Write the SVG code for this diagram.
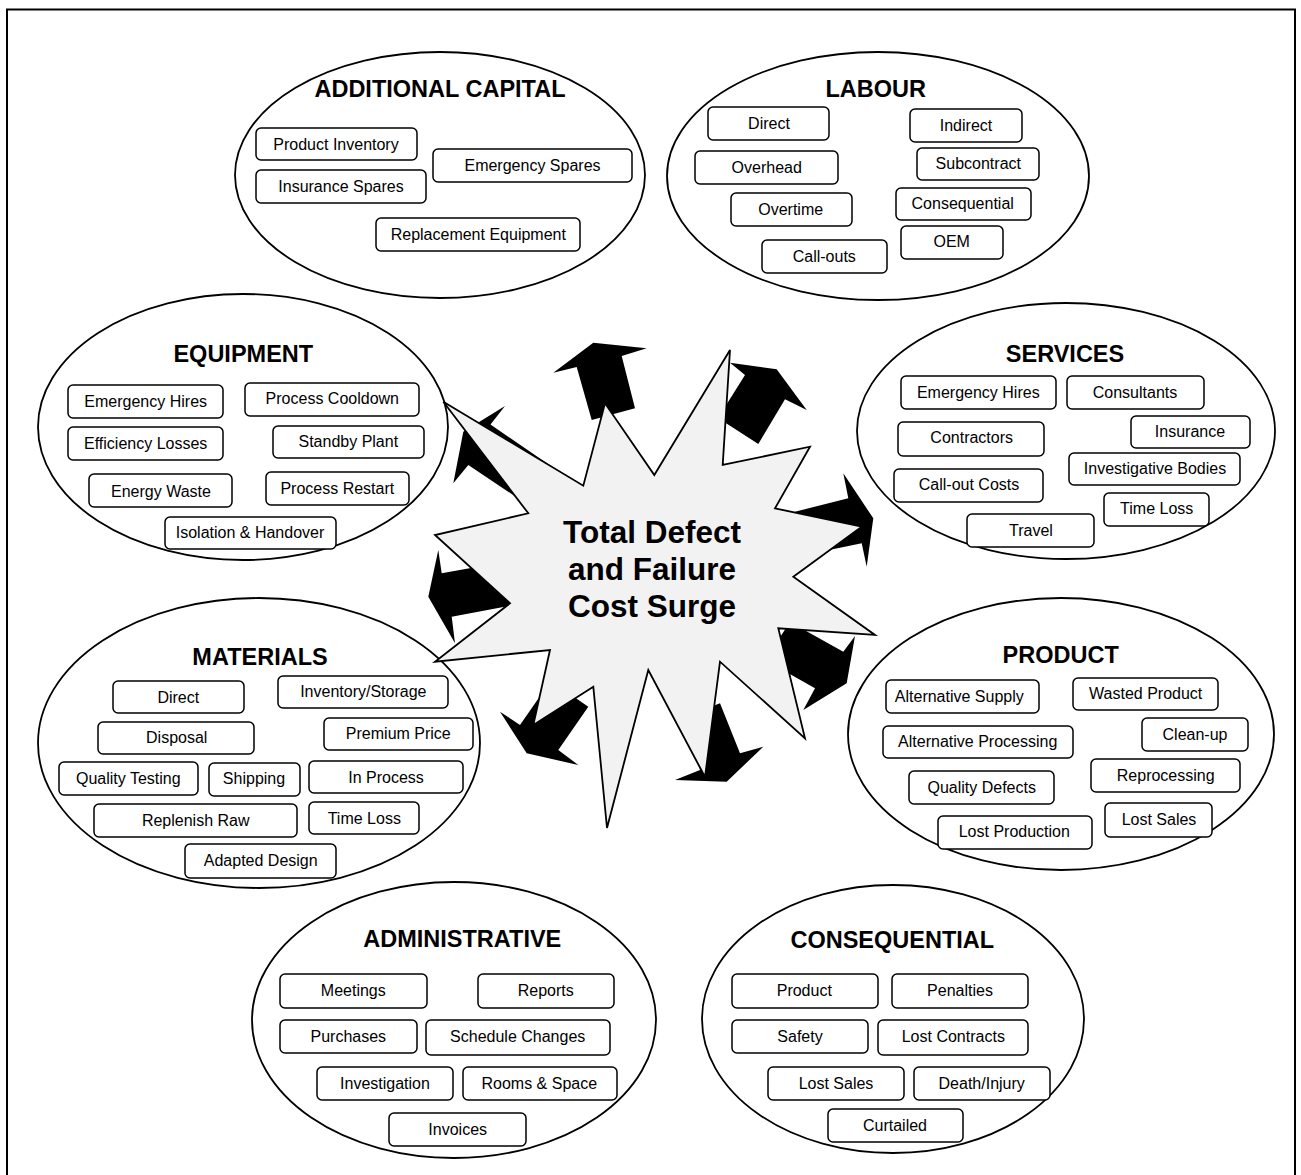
<svg xmlns="http://www.w3.org/2000/svg" width="1301" height="1175" viewBox="0 0 1301 1175">
<style>
.frame{fill:none;stroke:#000;stroke-width:2}
.oval{fill:#fff;stroke:#000;stroke-width:1.8}
.box{fill:#fff;stroke:#000;stroke-width:1.5}
.t{font-family:"Liberation Sans",Arial,sans-serif;font-size:16px;text-anchor:middle;fill:#000}
.h{font-family:"Liberation Sans",Arial,sans-serif;font-size:23.5px;font-weight:bold;text-anchor:middle;fill:#000}
.arrow{fill:#000;stroke:none}
.star{fill:#f2f2f2;stroke:#000;stroke-width:1.8;stroke-linejoin:miter}
.c{font-family:"Liberation Sans",Arial,sans-serif;font-size:31.5px;font-weight:bold;text-anchor:middle;fill:#000}
</style>
<rect class="frame" x="7" y="9.5" width="1288" height="1172"/>

<g id="additional-capital">
<ellipse class="oval" cx="440" cy="175" rx="205" ry="123"/>
<text class="h" x="440" y="96.7">ADDITIONAL CAPITAL</text>
<rect class="box" x="256" y="128" width="161" height="32" rx="5"/><text class="t" x="336" y="150">Product Inventory</text>
<rect class="box" x="256" y="170" width="170" height="33" rx="5"/><text class="t" x="341" y="191.7">Insurance Spares</text>
<rect class="box" x="433" y="149" width="199" height="33" rx="5"/><text class="t" x="532.5" y="170.7">Emergency Spares</text>
<rect class="box" x="376" y="218" width="204" height="33" rx="5"/><text class="t" x="478.3" y="240">Replacement Equipment</text>
</g>

<g id="labour">
<ellipse class="oval" cx="878" cy="176" rx="211" ry="124"/>
<text class="h" x="875.7" y="96.7">LABOUR</text>
<rect class="box" x="708" y="107" width="121" height="33" rx="5"/><text class="t" x="769" y="129">Direct</text>
<rect class="box" x="695" y="151" width="143" height="33" rx="5"/><text class="t" x="766.7" y="173.3">Overhead</text>
<rect class="box" x="731" y="193" width="121" height="33" rx="5"/><text class="t" x="790.7" y="215">Overtime</text>
<rect class="box" x="762" y="240" width="125" height="33" rx="5"/><text class="t" x="824.3" y="262.3">Call-outs</text>
<rect class="box" x="910" y="109" width="112" height="33" rx="5"/><text class="t" x="966" y="131">Indirect</text>
<rect class="box" x="917" y="148" width="122" height="32" rx="5"/><text class="t" x="978.3" y="169">Subcontract</text>
<rect class="box" x="896" y="188" width="135" height="32" rx="5"/><text class="t" x="962.7" y="209.3">Consequential</text>
<rect class="box" x="901" y="226" width="102" height="33" rx="5"/><text class="t" x="951.7" y="247.3">OEM</text>
</g>

<g id="equipment">
<ellipse class="oval" cx="243" cy="427" rx="205" ry="133"/>
<text class="h" x="243.3" y="362.3">EQUIPMENT</text>
<rect class="box" x="68" y="385" width="155" height="33" rx="5"/><text class="t" x="145.7" y="407.3">Emergency Hires</text>
<rect class="box" x="68" y="427" width="155" height="33" rx="5"/><text class="t" x="145.7" y="449">Efficiency Losses</text>
<rect class="box" x="89" y="474" width="143" height="33" rx="5"/><text class="t" x="161" y="496.7">Energy Waste</text>
<rect class="box" x="245" y="383" width="174" height="33" rx="5"/><text class="t" x="332.3" y="404.3">Process Cooldown</text>
<rect class="box" x="273" y="426" width="151" height="32" rx="5"/><text class="t" x="348.3" y="447.3">Standby Plant</text>
<rect class="box" x="266" y="472" width="143" height="33" rx="5"/><text class="t" x="337.3" y="494">Process Restart</text>
<rect class="box" x="165" y="517" width="171" height="32" rx="5"/><text class="t" x="250" y="537.7">Isolation &amp; Handover</text>
</g>

<g id="services">
<ellipse class="oval" cx="1066" cy="431" rx="209" ry="128"/>
<text class="h" x="1065" y="361.7">SERVICES</text>
<rect class="box" x="901" y="376" width="155" height="33" rx="5"/><text class="t" x="978.3" y="397.7">Emergency Hires</text>
<rect class="box" x="1067" y="376" width="137" height="33" rx="5"/><text class="t" x="1135" y="397.7">Consultants</text>
<rect class="box" x="898" y="422" width="146" height="34" rx="5"/><text class="t" x="971.7" y="443.3">Contractors</text>
<rect class="box" x="1131" y="416" width="119" height="32" rx="5"/><text class="t" x="1190" y="436.7">Insurance</text>
<rect class="box" x="1069" y="453" width="171" height="32" rx="5"/><text class="t" x="1155" y="474">Investigative Bodies</text>
<rect class="box" x="894" y="469" width="149" height="33" rx="5"/><text class="t" x="969" y="490">Call-out Costs</text>
<rect class="box" x="1104" y="493" width="105" height="33" rx="5"/><text class="t" x="1156.7" y="514.3">Time Loss</text>
<rect class="box" x="967" y="514" width="127" height="33" rx="5"/><text class="t" x="1031" y="535.7">Travel</text>
</g>

<g id="materials">
<ellipse class="oval" cx="259" cy="743" rx="221" ry="145"/>
<text class="h" x="260" y="665">MATERIALS</text>
<rect class="box" x="113" y="681" width="131" height="32" rx="5"/><text class="t" x="178.3" y="702.7">Direct</text>
<rect class="box" x="278" y="676" width="170" height="32" rx="5"/><text class="t" x="363.3" y="697.3">Inventory/Storage</text>
<rect class="box" x="98" y="722" width="156" height="32" rx="5"/><text class="t" x="176.7" y="743.3">Disposal</text>
<rect class="box" x="324" y="718" width="149" height="32" rx="5"/><text class="t" x="398.3" y="739">Premium Price</text>
<rect class="box" x="59" y="762" width="139" height="33" rx="5"/><text class="t" x="128.3" y="784">Quality Testing</text>
<rect class="box" x="209" y="763" width="91" height="33" rx="5"/><text class="t" x="254" y="784.3">Shipping</text>
<rect class="box" x="309" y="761" width="154" height="32" rx="5"/><text class="t" x="386" y="783.3">In Process</text>
<rect class="box" x="94" y="804" width="203" height="33" rx="5"/><text class="t" x="195.7" y="825.7">Replenish Raw</text>
<rect class="box" x="309" y="802" width="110" height="32" rx="5"/><text class="t" x="364.3" y="824">Time Loss</text>
<rect class="box" x="185" y="844" width="151" height="34" rx="5"/><text class="t" x="260.7" y="866">Adapted Design</text>
</g>

<g id="product">
<ellipse class="oval" cx="1061" cy="734" rx="213" ry="136"/>
<text class="h" x="1060.7" y="663.3">PRODUCT</text>
<rect class="box" x="886" y="680" width="153" height="33" rx="5"/><text class="t" x="959.3" y="702.3">Alternative Supply</text>
<rect class="box" x="1073" y="678" width="145" height="32" rx="5"/><text class="t" x="1145.7" y="699">Wasted Product</text>
<rect class="box" x="883" y="726" width="190" height="32" rx="5"/><text class="t" x="977.7" y="746.7">Alternative Processing</text>
<rect class="box" x="1142" y="718" width="106" height="33" rx="5"/><text class="t" x="1195" y="740">Clean-up</text>
<rect class="box" x="909" y="771" width="145" height="33" rx="5"/><text class="t" x="981.7" y="792.7">Quality Defects</text>
<rect class="box" x="1091" y="759" width="149" height="33" rx="5"/><text class="t" x="1165.7" y="780.7">Reprocessing</text>
<rect class="box" x="938" y="816" width="154" height="33" rx="5"/><text class="t" x="1014.3" y="837.3">Lost Production</text>
<rect class="box" x="1105" y="803" width="107" height="34" rx="5"/><text class="t" x="1159" y="825">Lost Sales</text>
</g>

<g id="administrative">
<ellipse class="oval" cx="454" cy="1020" rx="202" ry="138"/>
<text class="h" x="462.3" y="946.7">ADMINISTRATIVE</text>
<rect class="box" x="280" y="974" width="147" height="34" rx="5"/><text class="t" x="353.3" y="996">Meetings</text>
<rect class="box" x="478" y="974" width="136" height="34" rx="5"/><text class="t" x="545.7" y="996">Reports</text>
<rect class="box" x="280" y="1020" width="137" height="33" rx="5"/><text class="t" x="348.3" y="1042.3">Purchases</text>
<rect class="box" x="426" y="1020" width="184" height="35" rx="5"/><text class="t" x="517.7" y="1042.3">Schedule Changes</text>
<rect class="box" x="317" y="1067" width="136" height="33" rx="5"/><text class="t" x="385" y="1089">Investigation</text>
<rect class="box" x="463" y="1067" width="154" height="33" rx="5"/><text class="t" x="539.3" y="1089">Rooms &amp; Space</text>
<rect class="box" x="389" y="1113" width="137" height="33" rx="5"/><text class="t" x="457.7" y="1135">Invoices</text>
</g>

<g id="consequential">
<ellipse class="oval" cx="893" cy="1019" rx="191" ry="134"/>
<text class="h" x="892.3" y="948.3">CONSEQUENTIAL</text>
<rect class="box" x="732" y="974" width="146" height="34" rx="5"/><text class="t" x="804.3" y="996">Product</text>
<rect class="box" x="892" y="974" width="136" height="34" rx="5"/><text class="t" x="960" y="996">Penalties</text>
<rect class="box" x="732" y="1020" width="136" height="33" rx="5"/><text class="t" x="800" y="1042.3">Safety</text>
<rect class="box" x="878" y="1020" width="150" height="35" rx="5"/><text class="t" x="953.3" y="1042.3">Lost Contracts</text>
<rect class="box" x="768" y="1067" width="136" height="33" rx="5"/><text class="t" x="836" y="1089">Lost Sales</text>
<rect class="box" x="914" y="1067" width="136" height="33" rx="5"/><text class="t" x="981.7" y="1089">Death/Injury</text>
<rect class="box" x="828" y="1109" width="135" height="33" rx="5"/><text class="t" x="895" y="1130.7">Curtailed</text>
</g>

<g id="connectors">
<polygon class="arrow" points="591.7,420 576.7,367 553.3,372.7 593.3,342.7 646.7,348.3 621.7,356 635,408.3"/>
<polygon class="arrow" points="745,375 730,362.7 776.7,369.3 806.7,410 785,399.3 758.3,444 718,418"/>
<polygon class="arrow" points="795,511.7 848.3,498.3 843.3,473.3 873.3,518.3 866.7,566.7 861.7,543.3 800,556"/>
<polygon class="arrow" points="790,622 843.3,651.7 855,636 846.7,683.3 803.3,710 815,688.3 765,660"/>
<polygon class="arrow" points="692,714 720,703.3 740,753.3 763.3,746.7 726.7,781.7 675,780 700,770"/>
<polygon class="arrow" points="550.7,680.7 588.3,706.7 558.3,750 578.3,765 526.7,753.3 500,711.7 520,725"/>
<polygon class="arrow" points="441.7,573.3 438.3,550 428.3,596.7 455,643.3 451.7,616.7 520,604 515,560"/>
<polygon class="arrow" points="505,406 463.3,431.7 453.3,483.3 468.3,465 543,515 566.5,476.7 490.5,424.5"/>
</g>

<g id="cost-surge">
<polygon class="star" points="443.3,401.7 583.3,485.7 605,403.3 654.3,475 730,350 722.7,465 810,446.7 775,508.3 861.7,526.7 793.3,576.7 875,635 778.3,628.3 805,738.3 720,661.7 705,777 648.3,670 607,828 593.3,686.7 533.3,725 550,650 435,661.7 510,603.3 435,535 528.3,513.3"/>
<text class="c" x="652" y="543.3">Total Defect</text>
<text class="c" x="652" y="580">and Failure</text>
<text class="c" x="652" y="616.7">Cost Surge</text>
</g>
</svg>
